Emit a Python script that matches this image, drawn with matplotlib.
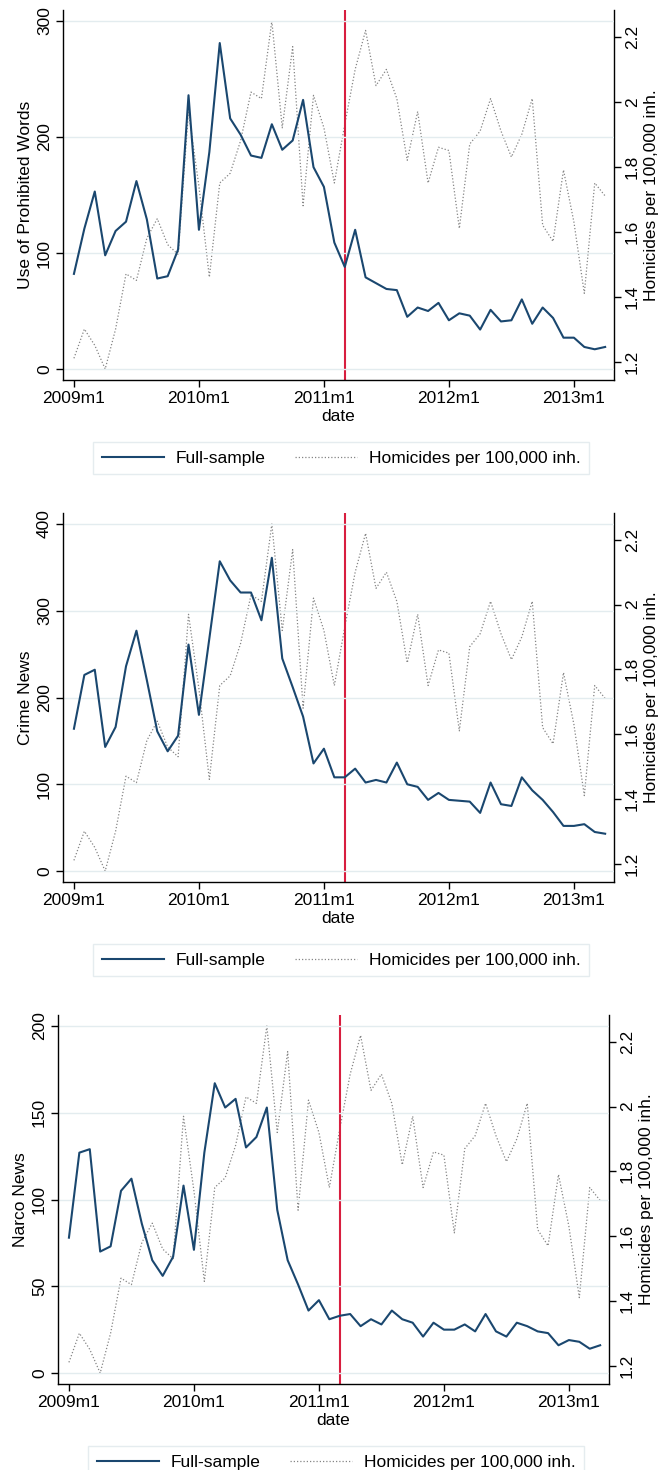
import numpy as np
import matplotlib.pyplot as plt
from matplotlib.ticker import FormatStrFormatter

plt.rcParams['font.family'] = ['Liberation Sans', 'DejaVu Sans']
plt.rcParams['font.size'] = 12.5

# homicides per 100,000 inh., monthly 2009m1 - 2013m4 (right axis, same in all panels)
homicides = [1.21, 1.30, 1.25, 1.177, 1.30, 1.47, 1.45, 1.58, 1.64, 1.56, 1.53, 1.97,
             1.74, 1.46, 1.75, 1.78, 1.88, 2.03, 2.01, 2.249, 1.92, 2.17, 1.68, 2.02,
             1.92, 1.75, 1.93, 2.10, 2.22, 2.05, 2.10, 2.01, 1.82, 1.97, 1.75, 1.86,
             1.85, 1.61, 1.87, 1.91, 2.01, 1.91, 1.83, 1.90, 2.01, 1.62, 1.57, 1.79,
             1.63, 1.41, 1.75, 1.71]

prohibited_words = [82, 121, 153, 98, 119, 127, 162, 129, 78, 80, 103, 236,
                    120, 187, 281, 216, 202, 184, 182, 211, 189, 197, 232, 174,
                    157, 109, 88, 120, 79, 74, 69, 68, 45, 53, 50, 57,
                    42, 48, 46, 34, 51, 41, 42, 60, 39, 53, 44, 27,
                    27, 19, 17, 19]

crime_news = [164, 226, 232, 143, 166, 236, 277, 220, 161, 138, 156, 261,
              180, 268, 357, 335, 321, 321, 289, 361, 245, 212, 178, 124,
              141, 108, 108, 118, 102, 105, 102, 125, 100, 97, 82, 90,
              82, 81, 80, 67, 102, 77, 75, 108, 93, 82, 68, 52,
              52, 54, 45, 43]

narco_news = [78, 127, 129, 70, 73, 105, 112, 86, 65, 56, 67, 108,
              71, 127, 167, 153, 158, 130, 136, 153, 94, 65, 51, 36,
              42, 31, 33, 34, 27, 31, 28, 36, 31, 29, 21, 29,
              25, 25, 28, 24, 34, 24, 21, 29, 27, 24, 23, 16,
              19, 18, 14, 16]

tick_pos = [0, 12, 24, 36, 48]
tick_labels = ['2009m1', '2010m1', '2011m1', '2012m1', '2013m1']
right_ticks = [1.2, 1.4, 1.6, 1.8, 2.0, 2.2]
break_month = 26  # 2011m3

panels = [
    ('Use of Prohibited Words', prohibited_words, [0, 100, 200, 300]),
    ('Crime News', crime_news, [0, 100, 200, 300, 400]),
    ('Narco News', narco_news, [0, 50, 100, 150, 200]),
]
# axes boxes in pixels: left, top, right, bottom
boxes = [(63, 10, 614, 380), (63, 513, 614, 882), (58, 1015, 609, 1384)]

W, H = 658, 1470
fig = plt.figure(figsize=(W / 100, H / 100), dpi=100)

navy = '#1a476f'
grid_col = '#e3ecef'
m = 11 / 348  # stata-like padding

x = np.arange(len(homicides))

for (ylab, series, yt), (l, t, r, b) in zip(panels, boxes):
    ax = fig.add_axes([l / W, (H - b) / H, (r - l) / W, (b - t) / H])
    ax2 = ax.twinx()
    ax.set_zorder(ax2.get_zorder() + 1)
    ax.patch.set_visible(False)

    ax2.plot(x, homicides, color='#858585', lw=0.9, ls=(0, (1, 1.6)),
             label='Homicides per 100,000 inh.')
    ax.plot(x, series, color=navy, lw=1.5, label='Full-sample')
    ax.axvline(break_month, color='#d81e3f', lw=1.5, zorder=0)

    lo, hi = yt[0], yt[-1]
    ax.set_ylim(lo - m * (hi - lo), hi + m * (hi - lo))
    hmin, hmax = min(homicides), max(homicides)
    ax2.set_ylim(hmin - m * (hmax - hmin), hmax + m * (hmax - hmin))
    ax.set_xlim(-1.05, len(x) - 1 + 0.85)

    ax.set_yticks(yt)
    ax.grid(axis='y', color=grid_col, lw=1.0)
    ax.set_axisbelow(True)
    ax.set_xticks(tick_pos)
    ax.set_xticklabels(tick_labels)
    ax2.set_yticks(right_ticks)
    ax2.yaxis.set_major_formatter(FormatStrFormatter('%g'))

    for a in (ax, ax2):
        a.spines['top'].set_visible(False)
        for s in a.spines.values():
            s.set_linewidth(1.0)
        a.tick_params(direction='out', length=5, width=1, pad=3)
    ax.spines['right'].set_visible(False)
    ax2.spines['left'].set_visible(False)
    ax2.spines['bottom'].set_visible(False)

    ax.tick_params(axis='y', labelrotation=90)
    ax2.tick_params(axis='y', labelrotation=90)
    for lab in ax.get_yticklabels() + ax2.get_yticklabels():
        lab.set_va('center')

    ax.set_ylabel(ylab, labelpad=3)
    ax2.set_ylabel('Homicides per 100,000 inh.', rotation=90, labelpad=3)
    ax.set_xlabel('date', labelpad=2)

    h1, l1 = ax.get_legend_handles_labels()
    h2, l2 = ax2.get_legend_handles_labels()
    cx = (l + 278) / W
    cy = (H - (b + 78)) / H
    leg = ax.legend(h1 + h2, l1 + l2, loc='center', bbox_to_anchor=(cx, cy),
                    bbox_transform=fig.transFigure, ncol=2, frameon=True,
                    fancybox=False, edgecolor='#dfe8eb', handlelength=3.6,
                    handletextpad=0.65, columnspacing=1.7, borderpad=0.5)
    leg.get_frame().set_linewidth(1.0)

fig.savefig('out.png', dpi=100)
